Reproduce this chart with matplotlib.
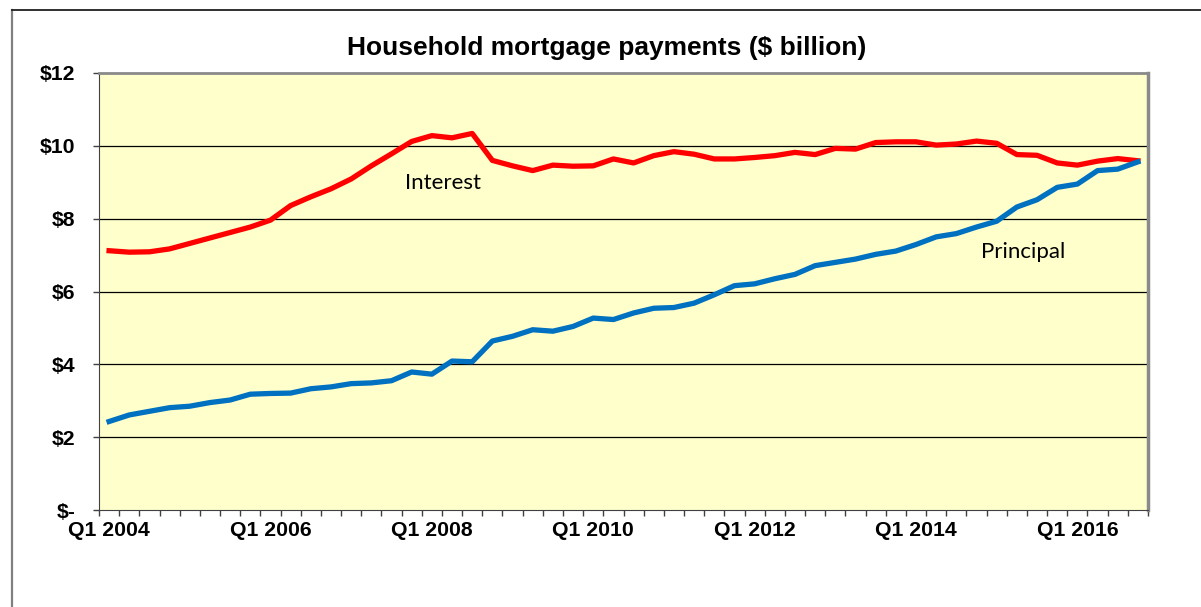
import matplotlib
matplotlib.use('Agg')
import matplotlib.pyplot as plt
from matplotlib.lines import Line2D

# quarterly values, Q1 2004 .. Q4 2016 ($ billion)
interest = [7.12, 7.08, 7.09, 7.17, 7.32, 7.47, 7.62, 7.77,
            7.96, 8.36, 8.60, 8.82, 9.09, 9.45, 9.78, 10.12,
            10.28, 10.22, 10.34, 9.60, 9.45, 9.32, 9.47, 9.44,
            9.45, 9.64, 9.53, 9.73, 9.84, 9.77, 9.64, 9.64,
            9.68, 9.73, 9.82, 9.76, 9.93, 9.91, 10.09, 10.11,
            10.11, 10.02, 10.05, 10.13, 10.07, 9.76, 9.74, 9.53,
            9.47, 9.58, 9.65, 9.59]
principal = [2.43, 2.61, 2.71, 2.81, 2.85, 2.95, 3.02, 3.18,
             3.20, 3.21, 3.33, 3.38, 3.47, 3.49, 3.55, 3.79,
             3.73, 4.09, 4.07, 4.64, 4.77, 4.95, 4.91, 5.04,
             5.27, 5.23, 5.41, 5.54, 5.56, 5.68, 5.91, 6.16,
             6.21, 6.35, 6.47, 6.71, 6.80, 6.89, 7.02, 7.11,
             7.29, 7.50, 7.59, 7.77, 7.93, 8.32, 8.52, 8.86,
             8.95, 9.32, 9.36, 9.56]
quarters = ["Q%d %d" % (q, y) for y in range(2004, 2017) for q in range(1, 5)]
yticks = [0, 2, 4, 6, 8, 10, 12]
ylabels = ["$-" if v == 0 else "$%d" % v for v in yticks]

fig = plt.figure(figsize=(12.01, 6.07), dpi=100)
W, H = 1201.0, 607.0

# chart frame (only top/left visible)
fig.add_artist(Line2D([12 / W, 12 / W], [0, 1 - 10 / H], color='#808080', lw=1.6))
fig.add_artist(Line2D([12 / W, 1], [1 - 10 / H, 1 - 10 / H], color='#202020', lw=1.3))

ax = fig.add_axes([99 / W, 1 - 510 / H, (1148 - 99) / W, (510 - 73) / H])
ax.set_facecolor('#FFFFCC')

x = list(range(len(quarters)))
ax.plot(x, interest, color='#FF0000', lw=3.8, solid_joinstyle='round', zorder=3)
ax.plot(x, principal, color='#0070C0', lw=3.8, solid_joinstyle='round', zorder=3)

ax.set_xlim(-0.5, len(quarters) - 0.5)
ax.set_ylim(0, 12)
ax.set_yticks(yticks)
ax.set_yticklabels(ylabels)
for v in yticks[1:-1]:
    ax.axhline(v, color='#000000', lw=0.9, zorder=1)

ax.set_xticks(x[::8])
ax.set_xticklabels(quarters[::8])
ax.set_xticks([i - 0.5 for i in range(len(quarters) + 1)], minor=True)
ax.tick_params(axis='x', which='major', length=0, pad=8)
ax.tick_params(axis='x', which='minor', length=4.5, width=1, color='#404040', direction='out')
ax.tick_params(axis='y', length=4.5, width=1, color='#404040', pad=12.5)
for lab in ax.get_xticklabels() + ax.get_yticklabels():
    lab.set_fontfamily('Liberation Sans')
    lab.set_fontweight('bold')
    lab.set_fontsize(15.3)

ax.spines['left'].set_color('#404040')
ax.spines['bottom'].set_color('#404040')
ax.spines['top'].set_color('#8a8a8a')
ax.spines['right'].set_color('#8a8a8a')
ax.spines['top'].set_linewidth(2)
ax.spines['right'].set_linewidth(2.5)

fig.text(607 / W, 1 - 48 / H, "Household mortgage payments ($ billion)",
         family='Liberation Sans', weight='bold', fontsize=19,
         ha='center', va='center')

ax.text(16.55, 8.97, "Interest", family='Lato', fontsize=16, ha='center', va='center')
ax.text(45.3, 7.09, "Principal", family='Lato', fontsize=16, ha='center', va='center')

fig.savefig("out.png", dpi=100)
